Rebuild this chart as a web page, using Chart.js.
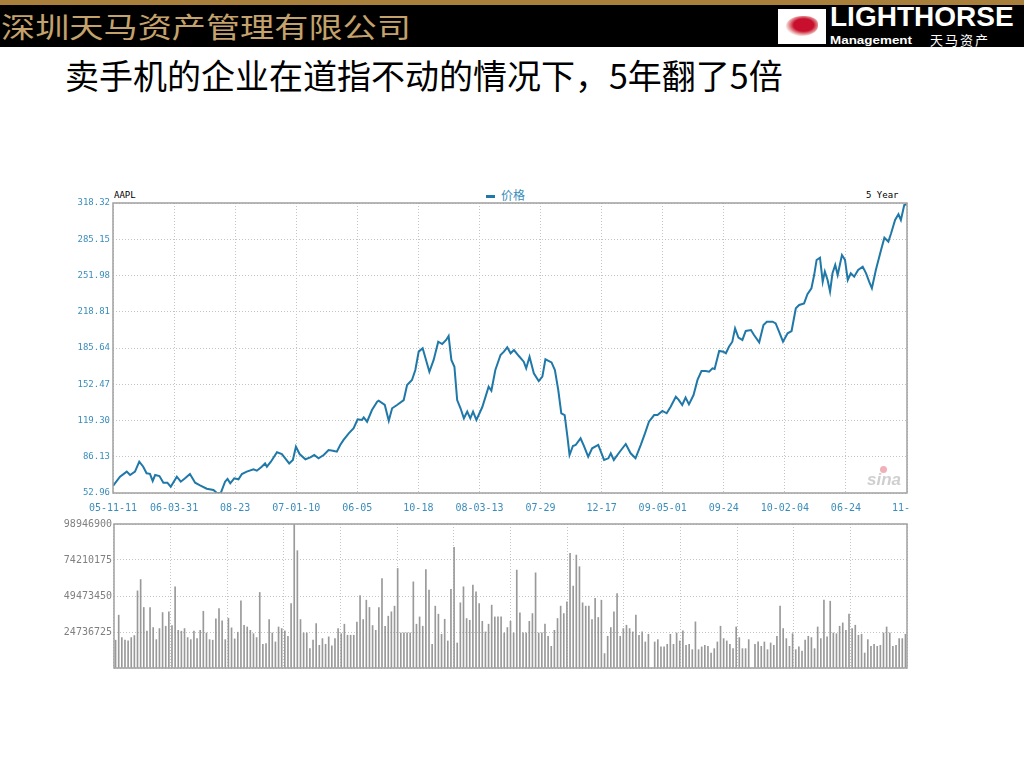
<!DOCTYPE html>
<html>
<head>
<meta charset="utf-8">
<title>AAPL 5 Year</title>
<script src="https://cdn.jsdelivr.net/npm/chart.js"></script>
<style>
  body { margin: 0; width: 1024px; height: 768px; background: #fff; position: relative; overflow: hidden; font-family: "Noto Sans CJK SC", sans-serif; }
  .abs { position: absolute; }
  #topbar { left: 0; top: 0; width: 1024px; height: 5px; background: #a8803c; }
  #header { left: 0; top: 5px; width: 1024px; height: 42px; background: #000; }
  #company { left: 1px; top: 4px; font-size: 28px; color: #c4a26c; white-space: nowrap; transform: scaleX(1.22); transform-origin: left top; line-height: 34px; }
  #logoBox { left: 778px; top: 4px; width: 48px; height: 35px; background: #fff; }
  #horse { left: 8px; top: 7px; width: 32px; height: 20px; background: radial-gradient(ellipse at 55% 45%, #c8102e 0 40%, #e8a0a0 60%, #fff 75%); border-radius: 50% 40% 50% 30%; }
  #brand { left: 830px; top: -3px; font-family: "Liberation Sans", sans-serif; font-weight: bold; font-size: 28px; color: #fff; line-height: 30px; white-space: nowrap; }
  #brandSub { left: 830px; top: 28px; font-family: "Liberation Sans", sans-serif; font-weight: bold; font-size: 11px; color: #fff; line-height: 14px; white-space: nowrap; transform: scaleX(1.22); transform-origin: left top; }
  #brandCn { left: 930px; top: 27px; font-size: 13px; color: #fff; line-height: 16px; white-space: nowrap; letter-spacing: 2px; }
  #title { left: 65px; top: 55px; font-size: 34px; color: #000; white-space: nowrap; line-height: 40px; }
  .mono { font-family: "DejaVu Sans Mono", monospace; }
  #wrapPrice { left: 60px; top: 195px; width: 850px; height: 322px; overflow: hidden; }
  #wrapVol { left: 60px; top: 518px; width: 850px; height: 152px; overflow: hidden; }
</style>
</head>
<body>
<div id="topbar" class="abs"></div>
<div id="header" class="abs">
  <div id="company" class="abs">深圳天马资产管理有限公司</div>
  <div id="logoBox" class="abs"><div id="horse" class="abs"></div></div>
  <div id="brand" class="abs">LIGHTHORSE</div>
  <div id="brandSub" class="abs">Management</div>
  <div id="brandCn" class="abs">天马资产</div>
</div>
<div id="title" class="abs">卖手机的企业在道指不动的情况下，5年翻了5倍</div>

<div class="abs mono" style="left:114px; top:190px; font-size:9px; color:#000;">AAPL</div>
<div class="abs" style="left:486px; top:195px; width:9px; height:3px; background:#1f78a8;"></div>
<div class="abs" style="left:501px; top:187px; font-size:12px; color:#3a8dbb; line-height:16px;">价格</div>
<div class="abs mono" style="left:866px; top:190px; font-size:9px; color:#000;">5 Year</div>

<div id="wrapPrice" class="abs"><canvas id="priceChart" width="880" height="320"></canvas></div>
<div id="wrapVol" class="abs"><canvas id="volChart" width="850" height="152"></canvas></div>
<div class="abs" style="left:867px; top:470px; font-family:'Liberation Sans',sans-serif; font-style:italic; font-weight:bold; font-size:17px; color:#cfcfcf;">sina</div>
<div class="abs" style="left:880px; top:466px; width:7px; height:7px; border-radius:50%; background:#f0b0b8;"></div>

<script>
// AAPL weekly closes, x = weeks since 05-11-11
const priceWeeks = [0, 2.3, 4.5, 5.6, 7.2, 8.6, 9.9, 11.0, 12.1, 13.0, 13.8, 15.2, 16.5, 17.8, 18.9, 20.9, 22.2, 23.6, 25.2, 26.9,
  28.5, 30.7, 32.9, 34.0, 35.3, 36.7, 37.5, 38.4, 39.7, 41.1, 42.2, 43.8, 46.0, 47.1, 48.7, 49.8, 50.4, 51.7, 53.7, 55.3,
  56.4, 57.7, 58.9, 59.9, 61.1, 63.0, 64.6, 65.9, 67.3, 69.0, 70.6, 72.0, 73.3, 74.4, 75.5, 77.2, 78.8, 80.1, 81.5, 82.1,
  83.2, 84.8, 86.5, 87.0, 89.0, 90.3, 91.4, 93.0, 95.2, 96.3, 97.9, 99.0, 100.1, 101.4, 102.5, 103.6, 105.0, 106.5, 107.8, 109.1,
  109.9, 110.8, 111.8, 112.7, 113.8, 114.9, 116.0, 117.0, 117.9, 119.0, 120.9, 122.0, 123.0, 123.9, 125.2, 126.9, 128.0, 129.1, 130.2, 131.3,
  132.9, 134.5, 135.3, 136.4, 137.8, 139.4, 140.6, 141.6, 143.6, 144.7, 145.8, 146.8, 147.9, 148.8, 149.5, 150.6, 151.5, 153.1, 154.2, 155.6,
  156.9, 158.9, 160.8, 162.2, 163.0, 164.0, 165.7, 167.9, 169.5, 171.1, 172.8, 174.2, 175.5, 177.2, 178.3, 179.9, 181.3, 182.6, 184.3, 185.3,
  186.4, 187.5, 188.6, 190.1, 191.4, 192.7, 194.1, 195.2, 196.3, 197.0, 198.5, 199.9, 200.7, 201.7, 202.8, 203.7, 204.8, 206.1, 207.2, 208.9,
  209.9, 211.6, 213.0, 214.1, 216.0, 217.0, 218.1, 219.4, 220.9, 222.2, 223.6, 224.7, 226.3, 227.4, 228.7, 229.6, 230.4, 231.5, 232.4, 233.1,
  234.0, 234.8, 235.6, 236.5, 237.3, 238.0, 238.7, 239.7, 240.6, 241.6, 242.7, 244.0, 245.5, 246.6, 247.6, 248.5, 249.8, 251.5, 252.6, 253.9,
  254.8, 256.1, 257.2, 258.0, 259.1, 259.9];
const priceValues = [59.4, 67.9, 72.5, 69.4, 72.5, 81.6, 77, 71, 70.5, 64, 69.4, 68.5, 62.4, 62.4, 58.7, 67.9, 63.3, 66.4, 70.3, 62.4,
  60, 56.9, 55.7, 53, 53, 63.3, 65.8, 61.8, 66.4, 65.5, 70.3, 72.5, 74.6, 73.4, 77, 80, 77, 81.6, 90.2, 88.6,
  84.7, 80, 83.2, 95.3, 88.6, 83.8, 85.6, 87.7, 84.7, 87.7, 92.3, 91.7, 90.8, 96.9, 101.5, 107.6, 112.2, 120.4, 119.8, 122.2,
  118.2, 128.9, 136.5, 137.4, 133.5, 119.1, 130.5, 133.5, 138, 151.8, 156.4, 165.5, 182.3, 185.4, 174.7, 163.9, 174.7, 191.4, 189.3, 193,
  196.6, 174.7, 168.5, 138, 130.5, 121.3, 127.4, 121.3, 127.4, 119.8, 131.4, 141.1, 150.2, 146.6, 165.5, 179.2, 182.3, 186.3, 180.8, 183.8,
  178.3, 173.1, 167.1, 177.7, 162.5, 155.4, 159.4, 175.3, 172.5, 165.5, 147.2, 125.9, 124.3, 104.5, 87.7, 96, 96.9, 103, 96, 86.2,
  93.9, 96.9, 83.2, 84.7, 89.3, 83.2, 89.8, 97.8, 89.3, 84.7, 96.8, 107.5, 118.2, 124.3, 124.3, 128, 125.9, 131.9, 141.1, 138,
  133.5, 140.2, 134.1, 142.6, 156.4, 164.6, 164.6, 164, 167.1, 166.5, 182.9, 182.3, 180.8, 186.8, 191.4, 203.6, 195.1, 193, 201.2, 202.1,
  197.5, 190.8, 206.7, 209.7, 209.7, 208.2, 200.6, 191.4, 199.1, 201.2, 222, 225, 226.5, 234.8, 240.3, 252.4, 266.2, 268.3, 246.3, 255.5,
  247.9, 237.2, 254, 261.6, 252.4, 261.6, 270.7, 266.2, 247.9, 254, 250.9, 257, 260, 254, 246.3, 240.3, 257, 275.3, 286.6, 283,
  290.6, 302.8, 308, 302.8, 316.5, 317.2];

const yTicks = [52.96, 86.13, 119.30, 152.47, 185.64, 218.81, 251.98, 285.15, 318.32];
const xTickWeeks = [0, 20, 40, 60, 80, 100, 120, 140, 160, 180, 200, 220, 240, 260];
const xTickLabels = ['05-11-11', '06-03-31', '08-23', '07-01-10', '06-05', '10-18', '08-03-13',
  '07-29', '12-17', '09-05-01', '09-24', '10-02-04', '06-24', '11-11'];

// weekly volume, millions of shares (0 = no bar)
const volumeValues = [19.1, 36.3, 20.9, 19.1, 18.6, 20.9, 22.3, 53, 60.8, 41.6,
  25.3, 41.6, 27.8, 19.5, 27.1, 38.1, 28.7, 38.6, 29.2, 55.8,
  25.9, 25.3, 27.1, 20.9, 19.5, 25.3, 20.2, 25.9, 39, 24.1,
  19.5, 19.1, 33.8, 40.9, 32.4, 19.5, 34.2, 27.6, 20, 24.6,
  46.1, 29.4, 28.2, 25.9, 23.6, 20.9, 51.9, 16.3, 16.8, 33.3,
  24.1, 17.9, 28.2, 27.1, 25.5, 21.8, 44.3, 99, 80.6, 33.3,
  24.1, 24.1, 13.3, 19.1, 30.5, 15.6, 20.2, 16.3, 21.4, 15.2,
  20.2, 27.1, 23.6, 30.1, 22.5, 22.5, 22.5, 31.5, 49.8, 33.3,
  46.6, 41.6, 29.2, 25.9, 41.6,
  61.5, 28.7, 35.6, 38.6, 42.5, 68.4, 24.1, 24.1, 24.1, 24.1,
  59.2, 30.1, 35.1, 28.7, 67.7, 53.5, 16.3, 42.5, 37, 23.2,
  33.5, 18.6, 54, 82.9, 17.2, 44.8, 55.8, 34, 32.8, 56.9,
  52.3, 44.3, 32.1, 24.8, 30.1, 43.2, 35.1, 35.1, 35.1, 24.1,
  27.8, 32.1, 24.1, 67.3, 37.9, 24.1, 24.1, 32.1, 37.4, 65.4,
  24.1, 24.1, 30.1, 21.8, 14.9, 25.9, 34, 42.5, 37.4, 45.5,
  78.8, 56.3, 77.6, 69.6, 44.8, 42.5, 42.5, 33.3, 47.8, 34.7,
  46.6, 9.9, 21.8, 27.8, 38.6, 51.2, 21.8, 27.1, 29.4, 27.1,
  24.8, 36.3, 22.5,
  24.8, 17.9, 23.2, 0, 17.9, 19.5, 14.5, 14.5, 16.3, 23.2,
  16.3, 24.1, 18.6, 25.5, 15.6, 16.3, 12.6, 31.7, 12.6, 14.5,
  15.6, 14.9, 10.3, 13.3, 17.9, 28.7, 20.2, 18.6, 16.3, 13.3,
  28.2, 20.9, 13.3, 13.3, 19.5, 0, 16.3, 17.9, 14.9, 17.9,
  12.6, 17.2, 15.6, 21.8, 42.5, 27.1, 20.2, 14.9, 23.6, 12.6,
  14.5, 11.7, 19.1, 21.8, 20.9, 13.3, 28.2, 20.2, 46.6, 21.4,
  45.9, 24.1, 23.6, 28.7, 31, 25.9, 37, 27.1, 29.4, 22.5,
  23.2, 10.3, 19.5, 14.9, 16.3, 14.9, 15.6, 24.1, 28.2, 24.1,
  14.9, 15.6, 20.2, 20.2, 23.2];
const volTicks = [0, 24.736725, 49.47345, 74.210175, 98.9469];

const gridStyle = { color: '#c4c4c4', lineWidth: 1, drawTicks: false };
const dotted = { display: false, dash: [1, 2] };

// plot frame on all four sides
const framePlugin = {
  id: 'frame',
  afterDraw(chart) {
    const { ctx, chartArea: a } = chart;
    ctx.save();
    ctx.strokeStyle = '#a0a0a0';
    ctx.lineWidth = 1.5;
    ctx.strokeRect(a.left, a.top, a.right - a.left, a.bottom - a.top);
    ctx.restore();
  }
};

function fixY(w) {
  return s => { s.width = w; s.paddingTop = 0; s.paddingBottom = 0; };
}
function fixX(h) {
  return s => { s.height = h; s.paddingLeft = 0; s.paddingRight = 0; };
}

new Chart(document.getElementById('priceChart'), {
  type: 'line',
  data: {
    datasets: [{
      label: '价格',
      data: priceWeeks.map((w, i) => ({ x: w, y: priceValues[i] })),
      borderColor: '#1f78a8',
      borderWidth: 2,
      pointRadius: 0,
      tension: 0
    }]
  },
  options: {
    responsive: false,
    animation: false,
    layout: { padding: { left: 0, right: 33, top: 8, bottom: 0 } },
    plugins: { legend: { display: false }, tooltip: { enabled: false } },
    scales: {
      x: {
        type: 'linear', min: 0, max: 260,
        afterBuildTicks: s => { s.ticks = xTickWeeks.map(v => ({ value: v })); },
        afterFit: fixX(22),
        grid: gridStyle, border: dotted,
        ticks: {
          padding: 9, maxRotation: 0, autoSkip: false,
          color: '#3a8dbb', font: { family: 'DejaVu Sans Mono', size: 10 },
          callback: (v, i) => xTickLabels[i]
        }
      },
      y: {
        min: yTicks[0], max: yTicks[yTicks.length - 1],
        afterBuildTicks: s => { s.ticks = yTicks.map(v => ({ value: v })); },
        afterFit: fixY(53),
        grid: gridStyle, border: dotted,
        ticks: {
          padding: 3, autoSkip: false,
          color: '#3a8dbb', font: { family: 'DejaVu Sans Mono', size: 9 },
          callback: v => v.toFixed(2)
        }
      }
    }
  },
  plugins: [framePlugin]
});

new Chart(document.getElementById('volChart'), {
  type: 'bar',
  data: {
    labels: volumeValues.map((_, i) => i),
    datasets: [{
      label: '成交量',
      data: volumeValues,
      backgroundColor: '#999999',
      barThickness: 1
    }]
  },
  options: {
    responsive: false,
    animation: false,
    layout: { padding: { left: 0, right: 3, top: 6, bottom: 2 } },
    plugins: { legend: { display: false }, tooltip: { enabled: false } },
    scales: {
      x: {
        afterFit: fixX(0),
        grid: { display: false }, border: { display: false },
        ticks: { display: false }
      },
      xg: {
        type: 'linear', position: 'bottom', min: 0, max: 260,
        afterBuildTicks: s => { s.ticks = xTickWeeks.map(v => ({ value: v })); },
        afterFit: fixX(0),
        grid: gridStyle, border: dotted,
        ticks: { display: false }
      },
      y: {
        min: 0, max: volTicks[volTicks.length - 1],
        afterBuildTicks: s => { s.ticks = volTicks.map(v => ({ value: v })); },
        afterFit: fixY(54),
        grid: gridStyle, border: dotted,
        ticks: {
          padding: 2, autoSkip: false,
          color: '#808080', font: { family: 'DejaVu Sans Mono', size: 10 },
          callback: v => v === 0 ? '' : String(Math.round(v * 1e6))
        }
      }
    }
  },
  plugins: [framePlugin]
});
</script>
</body>
</html>
